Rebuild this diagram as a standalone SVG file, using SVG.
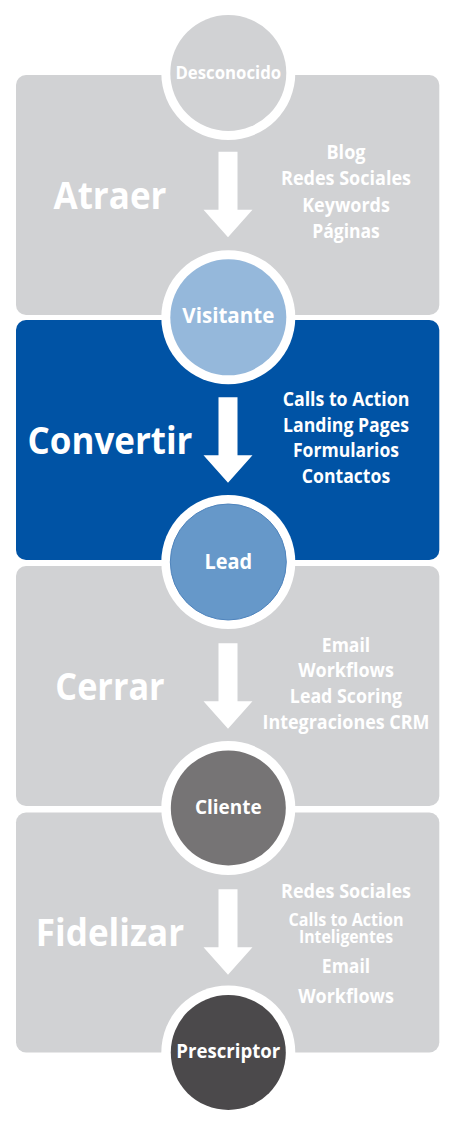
<svg xmlns="http://www.w3.org/2000/svg" width="457" height="1123" viewBox="0 0 457 1123">
  <style>
    .panel-gray { fill: #d1d2d4; }
    .panel-blue { fill: #0053a5; }
    .ring { fill: #ffffff; }
    .t { font-family: "Open Sans", "Liberation Sans", sans-serif; font-weight: 700; fill: #ffffff; text-anchor: middle; }
    .title { font-size: 37px; }
    .item { font-size: 19px; }
    .small { font-size: 17px; }
    .arrow { fill: #ffffff; }
  </style>
  <defs>
    <path id="arrowShape" d="M218.5,0 H237.5 V58 H252.5 L228,85.5 L203.5,58 H218.5 Z"/>
  </defs>
  <rect width="457" height="1123" fill="#ffffff"/>

  <g id="stage-atraer">
    <rect class="panel-gray" x="16" y="75" width="423.3" height="240" rx="10"/>
    <text class="t title" x="110" y="209.3" textLength="113" lengthAdjust="spacingAndGlyphs">Atraer</text>
    <text class="t item" x="346" y="159.3" textLength="39" lengthAdjust="spacingAndGlyphs">Blog</text>
    <text class="t item" x="346" y="185" textLength="130" lengthAdjust="spacingAndGlyphs">Redes Sociales</text>
    <text class="t item" x="346" y="211.7" textLength="87.7" lengthAdjust="spacingAndGlyphs">Keywords</text>
    <text class="t item" x="346" y="237.7" textLength="67.7" lengthAdjust="spacingAndGlyphs">Páginas</text>
  </g>

  <g id="stage-convertir">
    <rect class="panel-blue" x="16" y="320" width="423.3" height="240" rx="10"/>
    <text class="t title" x="110" y="454.3" textLength="165" lengthAdjust="spacingAndGlyphs">Convertir</text>
    <text class="t item" x="346" y="406" textLength="126.7" lengthAdjust="spacingAndGlyphs">Calls to Action</text>
    <text class="t item" x="346" y="431.7" textLength="126" lengthAdjust="spacingAndGlyphs">Landing Pages</text>
    <text class="t item" x="346" y="457.3" textLength="106" lengthAdjust="spacingAndGlyphs">Formularios</text>
    <text class="t item" x="346" y="482.7" textLength="88.3" lengthAdjust="spacingAndGlyphs">Contactos</text>
  </g>

  <g id="stage-cerrar">
    <rect class="panel-gray" x="16" y="566" width="423.3" height="240" rx="10"/>
    <text class="t title" x="110" y="700" textLength="109.3" lengthAdjust="spacingAndGlyphs">Cerrar</text>
    <text class="t item" x="346" y="651.7" textLength="48.3" lengthAdjust="spacingAndGlyphs">Email</text>
    <text class="t item" x="346" y="676.7" textLength="95.7" lengthAdjust="spacingAndGlyphs">Workflows</text>
    <text class="t item" x="346" y="703.3" textLength="112.3" lengthAdjust="spacingAndGlyphs">Lead Scoring</text>
    <text class="t item" x="346" y="729" textLength="167" lengthAdjust="spacingAndGlyphs">Integraciones CRM</text>
  </g>

  <g id="stage-fidelizar">
    <rect class="panel-gray" x="16" y="812.5" width="423.3" height="240" rx="10"/>
    <text class="t title" x="110" y="945.7" textLength="148.3" lengthAdjust="spacingAndGlyphs">Fidelizar</text>
    <text class="t item" x="346" y="897.7" textLength="130" lengthAdjust="spacingAndGlyphs">Redes Sociales</text>
    <text class="t small"><tspan x="346" y="926.2" textLength="115" lengthAdjust="spacingAndGlyphs">Calls to Action</tspan><tspan x="346" y="942.7" textLength="94" lengthAdjust="spacingAndGlyphs">Inteligentes</tspan></text>
    <text class="t item" x="346" y="972.7" textLength="48.3" lengthAdjust="spacingAndGlyphs">Email</text>
    <text class="t item" x="346" y="1002.7" textLength="95.7" lengthAdjust="spacingAndGlyphs">Workflows</text>
  </g>

  <g id="connectors">
    <use href="#arrowShape" class="arrow" transform="translate(0,151.7)"/>
    <use href="#arrowShape" class="arrow" transform="translate(0,397.3)"/>
    <use href="#arrowShape" class="arrow" transform="translate(0,643.3)"/>
    <use href="#arrowShape" class="arrow" transform="translate(0,889.3)"/>
  </g>

  <g id="node-desconocido">
    <circle class="ring" cx="228.3" cy="73" r="67"/>
    <circle cx="228.3" cy="73" r="58" fill="#d1d2d4"/>
    <text class="t" x="228.3" y="79" font-size="18" textLength="105.7" lengthAdjust="spacingAndGlyphs">Desconocido</text>
  </g>

  <g id="node-visitante">
    <circle class="ring" cx="228.3" cy="317.3" r="67"/>
    <circle cx="228.3" cy="317.3" r="58" fill="#95b8db"/>
    <text class="t" x="228.3" y="323.3" font-size="22" textLength="92" lengthAdjust="spacingAndGlyphs">Visitante</text>
  </g>

  <g id="node-lead">
    <circle class="ring" cx="228.3" cy="562" r="67"/>
    <circle cx="228.3" cy="562" r="58" fill="#6698c9" stroke="#4f84bd" stroke-width="1"/>
    <text class="t" x="228.3" y="569.3" font-size="21" textLength="47.7" lengthAdjust="spacingAndGlyphs">Lead</text>
  </g>

  <g id="node-cliente">
    <circle class="ring" cx="228.3" cy="808" r="67"/>
    <circle cx="228.3" cy="808" r="57.5" fill="#767475"/>
    <text class="t" x="228.3" y="814.3" font-size="20" textLength="66.7" lengthAdjust="spacingAndGlyphs">Cliente</text>
  </g>

  <g id="node-prescriptor">
    <circle class="ring" cx="228.3" cy="1052.5" r="67"/>
    <circle cx="228.3" cy="1052.5" r="57.5" fill="#4b494b"/>
    <text class="t" x="228.3" y="1057.7" font-size="20" textLength="104" lengthAdjust="spacingAndGlyphs">Prescriptor</text>
  </g>
</svg>
